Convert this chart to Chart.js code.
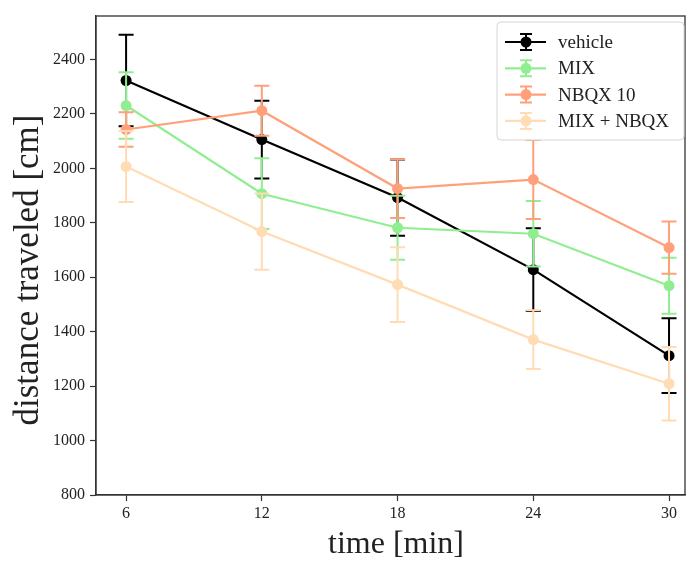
<!DOCTYPE html>
<html>
<head>
<meta charset="utf-8">
<script src="https://cdn.jsdelivr.net/npm/chart.js@4"></script>
<style>
  html, body { margin: 0; padding: 0; background: #ffffff; overflow: hidden; }
  #wrap { width: 686px; height: 562px; position: relative; overflow: hidden; }
</style>
</head>
<body>
<div id="wrap"><canvas id="chart"></canvas></div>
<script>
// time points (min)
const times = [6, 12, 18, 24, 30];

// mean distance traveled [cm] per group
const vehicle = [2323, 2106, 1893, 1628, 1312];
const mix = [2231, 1907, 1782, 1760, 1569];
const nbqx10 = [2143, 2212, 1926, 1959, 1709];
const mixNbqx = [2007, 1768, 1573, 1371, 1209];

// error bar half-widths
const vehicleErr = [168, 143, 140, 152, 137];
const mixErr = [122, 130, 118, 120, 103];
const nbqx10Err = [63, 92, 108, 145, 96];
const mixNbqxErr = [130, 140, 137, 108, 135];

const yTicks = [800, 1000, 1200, 1400, 1600, 1800, 2000, 2200, 2400];

const seriesNames = ['vehicle', 'MIX', 'NBQX 10', 'MIX + NBQX'];
const seriesColors = ['#000000', '#90ee90', '#ffa07a', '#ffdcb4'];

const xTitle = 'time [min]';
const yTitle = 'distance traveled [cm]';

const serif = "'Liberation Serif', 'DejaVu Serif', serif";

function toPoints(vals, errs) {
    return times.map((t, i) => ({ x: t, y: vals[i], err: errs[i] }));
}

const allVals = [vehicle, mix, nbqx10, mixNbqx];
const allErrs = [vehicleErr, mixErr, nbqx10Err, mixNbqxErr];

const datasets = seriesNames.map((name, i) => ({
    label: name,
    data: toPoints(allVals[i], allErrs[i]),
    borderColor: seriesColors[i],
    backgroundColor: seriesColors[i],
    borderWidth: 2.2,
    pointRadius: 5.5,
    pointHoverRadius: 5.5,
    pointBorderWidth: 0,
    tension: 0,
    fill: false,
    order: seriesNames.length - i
}));

// error bars drawn just before each dataset's line
const errorBars = {
    id: 'errorBars',
    beforeDatasetDraw(chart, args) {
        const ds = chart.data.datasets[args.index];
        const xs = chart.scales.x, ys = chart.scales.y;
        const ctx = chart.ctx;
        ctx.save();
        ctx.strokeStyle = ds.borderColor;
        ctx.lineWidth = 2;
        ds.data.forEach((p) => {
            const px = xs.getPixelForValue(p.x);
            const top = ys.getPixelForValue(p.y + p.err);
            const bot = ys.getPixelForValue(p.y - p.err);
            ctx.beginPath();
            ctx.moveTo(px, top); ctx.lineTo(px, bot);
            ctx.moveTo(px - 7.5, top); ctx.lineTo(px + 7.5, top);
            ctx.moveTo(px - 7.5, bot); ctx.lineTo(px + 7.5, bot);
            ctx.stroke();
        });
        ctx.restore();
    }
};

// frame, axis titles and legend
const frameLegend = {
    id: 'frameLegend',
    afterDraw(chart) {
        const ctx = chart.ctx;
        const a = chart.chartArea;
        ctx.save();
        ctx.strokeStyle = '#333333';
        ctx.lineWidth = 1.3;
        ctx.strokeRect(a.left, a.top, a.right - a.left - 1, a.bottom - a.top);

        // axis titles
        ctx.fillStyle = '#222222';
        ctx.font = '32px ' + serif;
        ctx.textAlign = 'center';
        ctx.textBaseline = 'alphabetic';
        ctx.fillText(xTitle, 396, 553);
        ctx.save();
        ctx.translate(38, 270);
        ctx.rotate(-Math.PI / 2);
        ctx.font = '35px ' + serif;
        ctx.fillText(yTitle, 0, 0);
        ctx.restore();

        // legend box
        const bx = 497, by = 22, bw = 187, bh = 118, r = 4;
        ctx.beginPath();
        ctx.moveTo(bx + r, by);
        ctx.lineTo(bx + bw - r, by);
        ctx.quadraticCurveTo(bx + bw, by, bx + bw, by + r);
        ctx.lineTo(bx + bw, by + bh - r);
        ctx.quadraticCurveTo(bx + bw, by + bh, bx + bw - r, by + bh);
        ctx.lineTo(bx + r, by + bh);
        ctx.quadraticCurveTo(bx, by + bh, bx, by + bh - r);
        ctx.lineTo(bx, by + r);
        ctx.quadraticCurveTo(bx, by, bx + r, by);
        ctx.closePath();
        ctx.fillStyle = 'rgba(255,255,255,0.85)';
        ctx.fill();
        ctx.strokeStyle = '#d6d6d6';
        ctx.lineWidth = 1;
        ctx.stroke();

        chart.data.datasets.forEach((ds, i) => {
            const cy = 42 + i * 26.3;
            const cx = 526;
            ctx.strokeStyle = ds.borderColor;
            ctx.lineWidth = 2.2;
            ctx.beginPath();
            ctx.moveTo(505, cy); ctx.lineTo(546, cy);
            ctx.stroke();
            ctx.lineWidth = 2;
            ctx.beginPath();
            ctx.moveTo(cx, cy - 8); ctx.lineTo(cx, cy + 8);
            ctx.moveTo(cx - 6, cy - 8); ctx.lineTo(cx + 6, cy - 8);
            ctx.moveTo(cx - 6, cy + 8); ctx.lineTo(cx + 6, cy + 8);
            ctx.stroke();
            ctx.fillStyle = ds.borderColor;
            ctx.beginPath();
            ctx.arc(cx, cy, 5.5, 0, Math.PI * 2);
            ctx.fill();
            ctx.fillStyle = '#222222';
            ctx.font = '19px ' + serif;
            ctx.textBaseline = 'middle';
            ctx.textAlign = 'left';
            ctx.fillText(ds.label, 558, cy + 1);
        });
        ctx.restore();
    }
};

new Chart(document.getElementById('chart'), {
    type: 'line',
    data: { datasets: datasets },
    options: {
        responsive: true,
        maintainAspectRatio: false,
        animation: false,
        layout: { autoPadding: false, padding: { top: 16, right: 0, left: 0, bottom: 0 } },
        plugins: {
            legend: { display: false },
            tooltip: { enabled: false }
        },
        scales: {
            x: {
                type: 'linear',
                min: 4.67,
                max: 30.75,
                afterBuildTicks: (scale) => { scale.ticks = times.map(v => ({ value: v })); },
                afterFit: (scale) => { scale.height = 67; scale.paddingLeft = 0; scale.paddingRight = 0; },
                grid: { display: true, drawOnChartArea: false, drawTicks: true, tickLength: 6, color: '#333333', tickWidth: 1.2 },
                border: { display: true, color: '#333333', width: 1.3 },
                ticks: { color: '#222222', padding: 3, font: { family: serif, size: 16 }, callback: (v) => String(v) }
            },
            y: {
                type: 'linear',
                min: 800,
                max: 2560,
                afterBuildTicks: (scale) => { scale.ticks = yTicks.map(v => ({ value: v })); },
                afterFit: (scale) => { scale.width = 96; scale.paddingTop = 0; scale.paddingBottom = 0; },
                grid: { display: true, drawOnChartArea: false, drawTicks: true, tickLength: 6, color: '#333333', tickWidth: 1.2 },
                border: { display: true, color: '#333333', width: 1.3 },
                ticks: { color: '#222222', padding: 5, font: { family: serif, size: 16 }, callback: (v) => String(v) }
            }
        }
    },
    plugins: [errorBars, frameLegend]
});
</script>
</body>
</html>
